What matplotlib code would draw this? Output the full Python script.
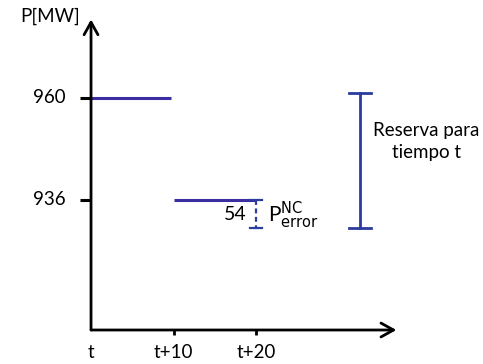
import matplotlib
matplotlib.use("Agg")
import matplotlib.pyplot as plt

plt.rcParams['font.family'] = ['Lato', 'DejaVu Sans']

# data
time_ticks = [0, 10, 20]
time_labels = ["t", "t+10", "t+20"]
power_ticks = [960, 936]
power_labels = ["960", "936"]
seg_start = [0, 10]
seg_end = [9.7, 20]
seg_power = [960, 936]
error_low = 929.4          # 936 - error
error_label = "54"
reserve_x = 32.6
reserve_top = 961.2
reserve_bottom = 929.4

fig = plt.figure(figsize=(4.83, 3.64), dpi=100)
ax = fig.add_axes([0, 0, 1, 1])
ax.set_xlim(-11.03, 47.5)
ax.set_ylim(897.4, 983.06)
ax.axis('off')

blue = '#3b2ea3'
dblue = '#2b3b9e'
y0 = 905.4

# axes with arrows
ax.annotate('', xy=(0, 978.5), xytext=(0, y0),
            arrowprops=dict(arrowstyle='->,head_length=0.9,head_width=0.5', lw=2.0, color='black',
                            shrinkA=0, shrinkB=0))
ax.annotate('', xy=(37.0, y0), xytext=(0, y0),
            arrowprops=dict(arrowstyle='->,head_length=0.9,head_width=0.5', lw=2.0, color='black',
                            shrinkA=0, shrinkB=0))

# y ticks
for v, lab in zip(power_ticks, power_labels):
    ax.plot([-1.3, 0], [v, v], color='black', lw=2.2, solid_capstyle='butt')
    ax.text(-3.1, v, lab, ha='right', va='center', fontsize=13.5)
ax.text(-1.3, 979.2, "P[MW]", ha='right', va='center', fontsize=13.5)

# x ticks
for v, lab in zip(time_ticks, time_labels):
    if v != 0:
        ax.plot([v, v], [y0, y0 - 1.2], color='black', lw=2.0, solid_capstyle='butt')
    ax.text(v, y0 - 5.3, lab, ha='center', va='center', fontsize=13.5)

# power segments
for s, e, p in zip(seg_start, seg_end, seg_power):
    ax.plot([s, e], [p, p], color=blue, lw=2.2, solid_capstyle='butt')

# error bar
ax.plot([20, 20], [seg_power[1], error_low], color=dblue, lw=1.6, ls=(0, (2.2, 1.6)))
for yy in [seg_power[1], error_low]:
    ax.plot([19.3, 20.7], [yy, yy], color=dblue, lw=1.6)
ax.text(18.9, 932.6, error_label, ha='right', va='center', fontsize=14)
ax.text(21.4, 932.4, r"P$^{\mathrm{NC}}_{\mathrm{error}}$", ha='left', va='center', fontsize=15)

# reserve bar
ax.plot([reserve_x, reserve_x], [reserve_bottom, reserve_top], color=dblue, lw=2.0)
for yy in [reserve_bottom, reserve_top]:
    ax.plot([reserve_x - 1.3, reserve_x + 1.3], [yy, yy], color=dblue, lw=2.0)
ax.text(40.6, 949.7, "Reserva para\ntiempo t", ha='center', va='center', fontsize=13.5,
        linespacing=1.35)

fig.savefig("out.png", dpi=100)
